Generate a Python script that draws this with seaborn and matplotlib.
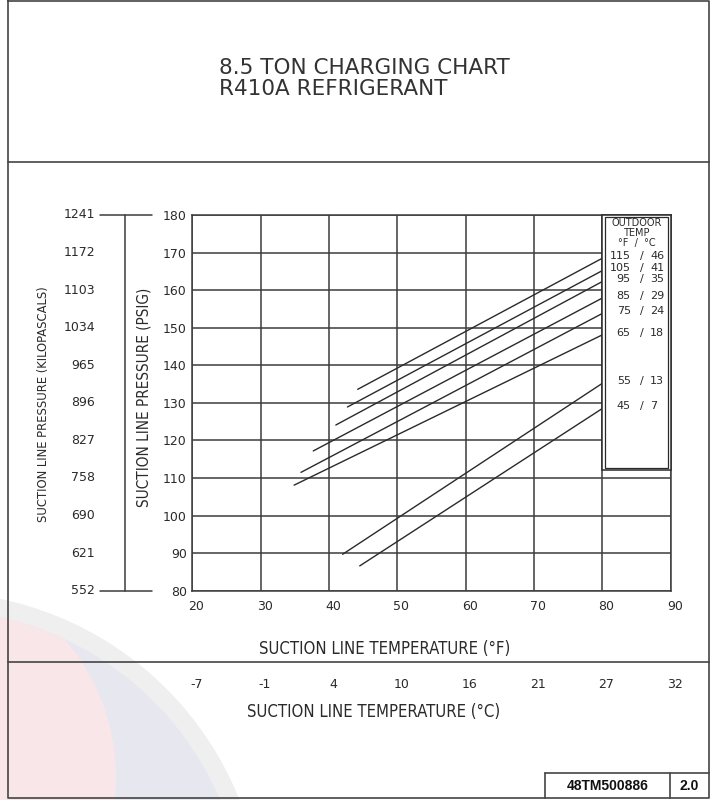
import matplotlib
matplotlib.use("Agg")
import matplotlib.pyplot as plt
import matplotlib.patches as mpatches
import matplotlib.transforms as mtransforms
from matplotlib.lines import Line2D
import pandas as pd
import seaborn as sns

# Outdoor ambient temperature of each charging curve
outdoor_f = [115, 105, 95, 85, 75, 65, 55, 45]
outdoor_c = [46, 41, 35, 29, 24, 18, 13, 7]

# Suction line temperature (deg F) at the two ends of each curve
suction_temp_start = [44.2, 42.7, 41.0, 37.7, 35.9, 34.9, 42.0, 44.5]
suction_temp_end = [80, 80, 80, 80, 80, 80, 80, 80]

# Suction line pressure (psig) at the two ends of each curve
suction_psig_start = [133.6, 128.9, 124.1, 117.2, 111.5, 108.1, 89.7, 86.6]
suction_psig_end = [168.5, 165.2, 162.3, 157.9, 153.8, 148.1, 135.2, 128.5]

# Axis scales
temp_f_ticks = [20, 30, 40, 50, 60, 70, 80, 90]
temp_c_labels = ["-7", "-1", "4", "10", "16", "21", "27", "32"]
psig_ticks = [80, 90, 100, 110, 120, 130, 140, 150, 160, 170, 180]
kpa_labels = ["552", "621", "690", "758", "827", "896", "965",
              "1034", "1103", "1172", "1241"]

title_lines = ["8.5 TON CHARGING CHART", "R410A REFRIGERANT"]
doc_number = "48TM500886"
doc_revision = "2.0"

INK = "#2a2a2a"
GRID = "#3c3c3c"
NARROW = ["Liberation Sans Narrow", "DejaVu Sans"]

sns.set_style("white")
plt.rcParams["font.family"] = ["DejaVu Sans"]
plt.rcParams["text.color"] = INK

W, H = 710, 800
fig = plt.figure(figsize=(W / 100, H / 100), dpi=100)
fig.patch.set_facecolor("white")


def fx(x):
    return x / W


def fy(y):
    return 1 - y / H


# pixel space (origin top-left) for the sheet furniture
PIX = mtransforms.Affine2D().scale(1 / W, -1 / H).translate(0, 1) + fig.transFigure

# faint logo watermark in the lower-left corner
ring = mpatches.Circle((-67, 922), 330, transform=PIX, facecolor="#efeff0",
                       edgecolor="none", zorder=-5)
disc = mpatches.Circle((-67, 922), 312, transform=PIX, facecolor="#e7e7ef",
                       edgecolor="none", zorder=-4)
blush = mpatches.Circle((-95, 777), 211, transform=PIX, facecolor="#f8e6e9",
                        edgecolor="none", zorder=-3)
for p in (ring, disc, blush):
    fig.add_artist(p)
blush.set_clip_path(disc)

# sheet border and section dividers
def sheet_line(xs, ys, lw=1.2):
    fig.add_artist(Line2D(xs, ys, transform=PIX, color="#444444", lw=lw, zorder=6))

sheet_line([8, 709, 709, 8, 8], [1, 1, 798, 798, 1])
sheet_line([8, 709], [162.3, 162.3])
sheet_line([8, 709], [661.5, 661.5])
sheet_line([545, 709], [773, 773])
sheet_line([545, 545], [773, 798])
sheet_line([670, 670], [773, 798])

# title block
fig.text(fx(219), fy(67.8), title_lines[0], fontsize=15.5, ha="left", va="center",
         color="#333333")
fig.text(fx(219), fy(88.8), title_lines[1], fontsize=15.5, ha="left", va="center",
         color="#333333")
fig.text(fx(607.5), fy(786), doc_number, fontsize=10, fontweight="bold",
         family=["Liberation Sans", "DejaVu Sans"], ha="center", va="center",
         color="#111111")
fig.text(fx(689.5), fy(786), doc_revision, fontsize=10, fontweight="bold",
         family=["Liberation Sans", "DejaVu Sans"], ha="center", va="center",
         color="#111111")

# main chart
x0, x1, y0, y1 = 192.3, 670.7, 215.0, 590.7
ax = fig.add_axes([fx(x0), fy(y1), (x1 - x0) / W, (y1 - y0) / H])

rows = []
for f, c, t0, t1, p0, p1 in zip(outdoor_f, outdoor_c, suction_temp_start,
                                 suction_temp_end, suction_psig_start, suction_psig_end):
    rows.append({"outdoor": f"{f} / {c}", "temp": t0, "psig": p0})
    rows.append({"outdoor": f"{f} / {c}", "temp": t1, "psig": p1})
curves = pd.DataFrame(rows)

sns.lineplot(data=curves, x="temp", y="psig", units="outdoor", estimator=None,
             sort=False, color=INK, linewidth=1.0, legend=False, ax=ax, zorder=2)

ax.set_xlim(20, 90)
ax.set_ylim(80, 180)
ax.set_xticks(temp_f_ticks)
ax.set_yticks(psig_ticks)
ax.set_xlabel("")
ax.set_ylabel("")
ax.set_axisbelow(True)
ax.grid(True, color=GRID, linewidth=1.1)
for s in ax.spines.values():
    s.set_visible(True)
    s.set_color(GRID)
    s.set_linewidth(1.1)
ax.tick_params(axis="both", direction="out", length=3, width=1.0, colors=GRID,
               labelcolor=INK, labelsize=9)
ax.tick_params(axis="y", pad=1)
ax.tick_params(axis="x", pad=3.5)
shift = mtransforms.ScaledTranslation(4 / 100, 0, fig.dpi_scale_trans)
for lbl in ax.get_xticklabels():
    lbl.set_transform(lbl.get_transform() + shift)

# outdoor temperature key
box = mpatches.Rectangle((80, 112.1), 10, 67.9, facecolor="white", edgecolor=INK,
                         linewidth=1.1, zorder=3, clip_on=False)
inner = mpatches.Rectangle((80.34, 112.7), 9.32, 66.7, facecolor="none",
                           edgecolor=INK, linewidth=0.9, zorder=3, clip_on=False)
ax.add_patch(box)
ax.add_patch(inner)
for txt, yy in (("OUTDOOR", 177.95), ("TEMP", 175.3), ("°F  /  °C", 172.5)):
    ax.text(85, yy, txt, fontsize=7, ha="center", va="center", zorder=4)
key_lift = 0.6  # labels sit just above the end of their curve
for f, c, p in zip(outdoor_f, outdoor_c, suction_psig_end):
    ax.text(84.15, p + key_lift, str(f), fontsize=8, ha="right", va="center", zorder=4)
    ax.text(85.76, p + key_lift, "/", fontsize=8, ha="center", va="center", zorder=4)
    ax.text(86.97, p + key_lift, str(c), fontsize=8, ha="left", va="center", zorder=4)

# kilopascal scale beside the psig axis
ytr = ax.get_yaxis_transform()
def ax_x(px):
    return (px - x0) / (x1 - x0)

ax.plot([ax_x(125)] * 2, [psig_ticks[0], psig_ticks[-1]], transform=ytr,
        color=GRID, lw=1.1, clip_on=False)
for end in (psig_ticks[0], psig_ticks[-1]):
    ax.plot([ax_x(100), ax_x(151.7)], [end, end], transform=ytr, color=GRID,
            lw=1.1, clip_on=False)
for p, k in zip(psig_ticks, kpa_labels):
    ax.text(ax_x(95), p, k, transform=ytr, fontsize=9, ha="right", va="center")

ax.text(ax_x(144), (y1 - 397.7) / (y1 - y0), "SUCTION LINE PRESSURE (PSIG)",
        transform=ax.transAxes, rotation=90, ha="center", va="center",
        family=NARROW, fontstretch="condensed", fontsize=11)
ax.text(ax_x(43), (y1 - 403.7) / (y1 - y0), "SUCTION LINE PRESSURE (KILOPASCALS)",
        transform=ax.transAxes, rotation=90, ha="center", va="center",
        family=NARROW, fontstretch="condensed", fontsize=9.3)

# Fahrenheit axis title and Celsius scale underneath
fig.text(fx(384.3), fy(648.5), "SUCTION LINE TEMPERATURE (°F)", ha="center",
         va="center", family=NARROW, fontstretch="condensed", fontsize=12)
xtr = ax.get_xaxis_transform()
for t, c in zip(temp_f_ticks, temp_c_labels):
    ax.text(t, (y1 - 685) / (y1 - y0), c, transform=xtr, fontsize=9,
            ha="center", va="center")
    ax.texts[-1].set_transform(xtr + shift)
fig.text(fx(373.2), fy(711.7), "SUCTION LINE TEMPERATURE (°C)", ha="center",
         va="center", family=NARROW, fontstretch="condensed", fontsize=12)

fig.savefig("out.png", dpi=100, facecolor="white")
